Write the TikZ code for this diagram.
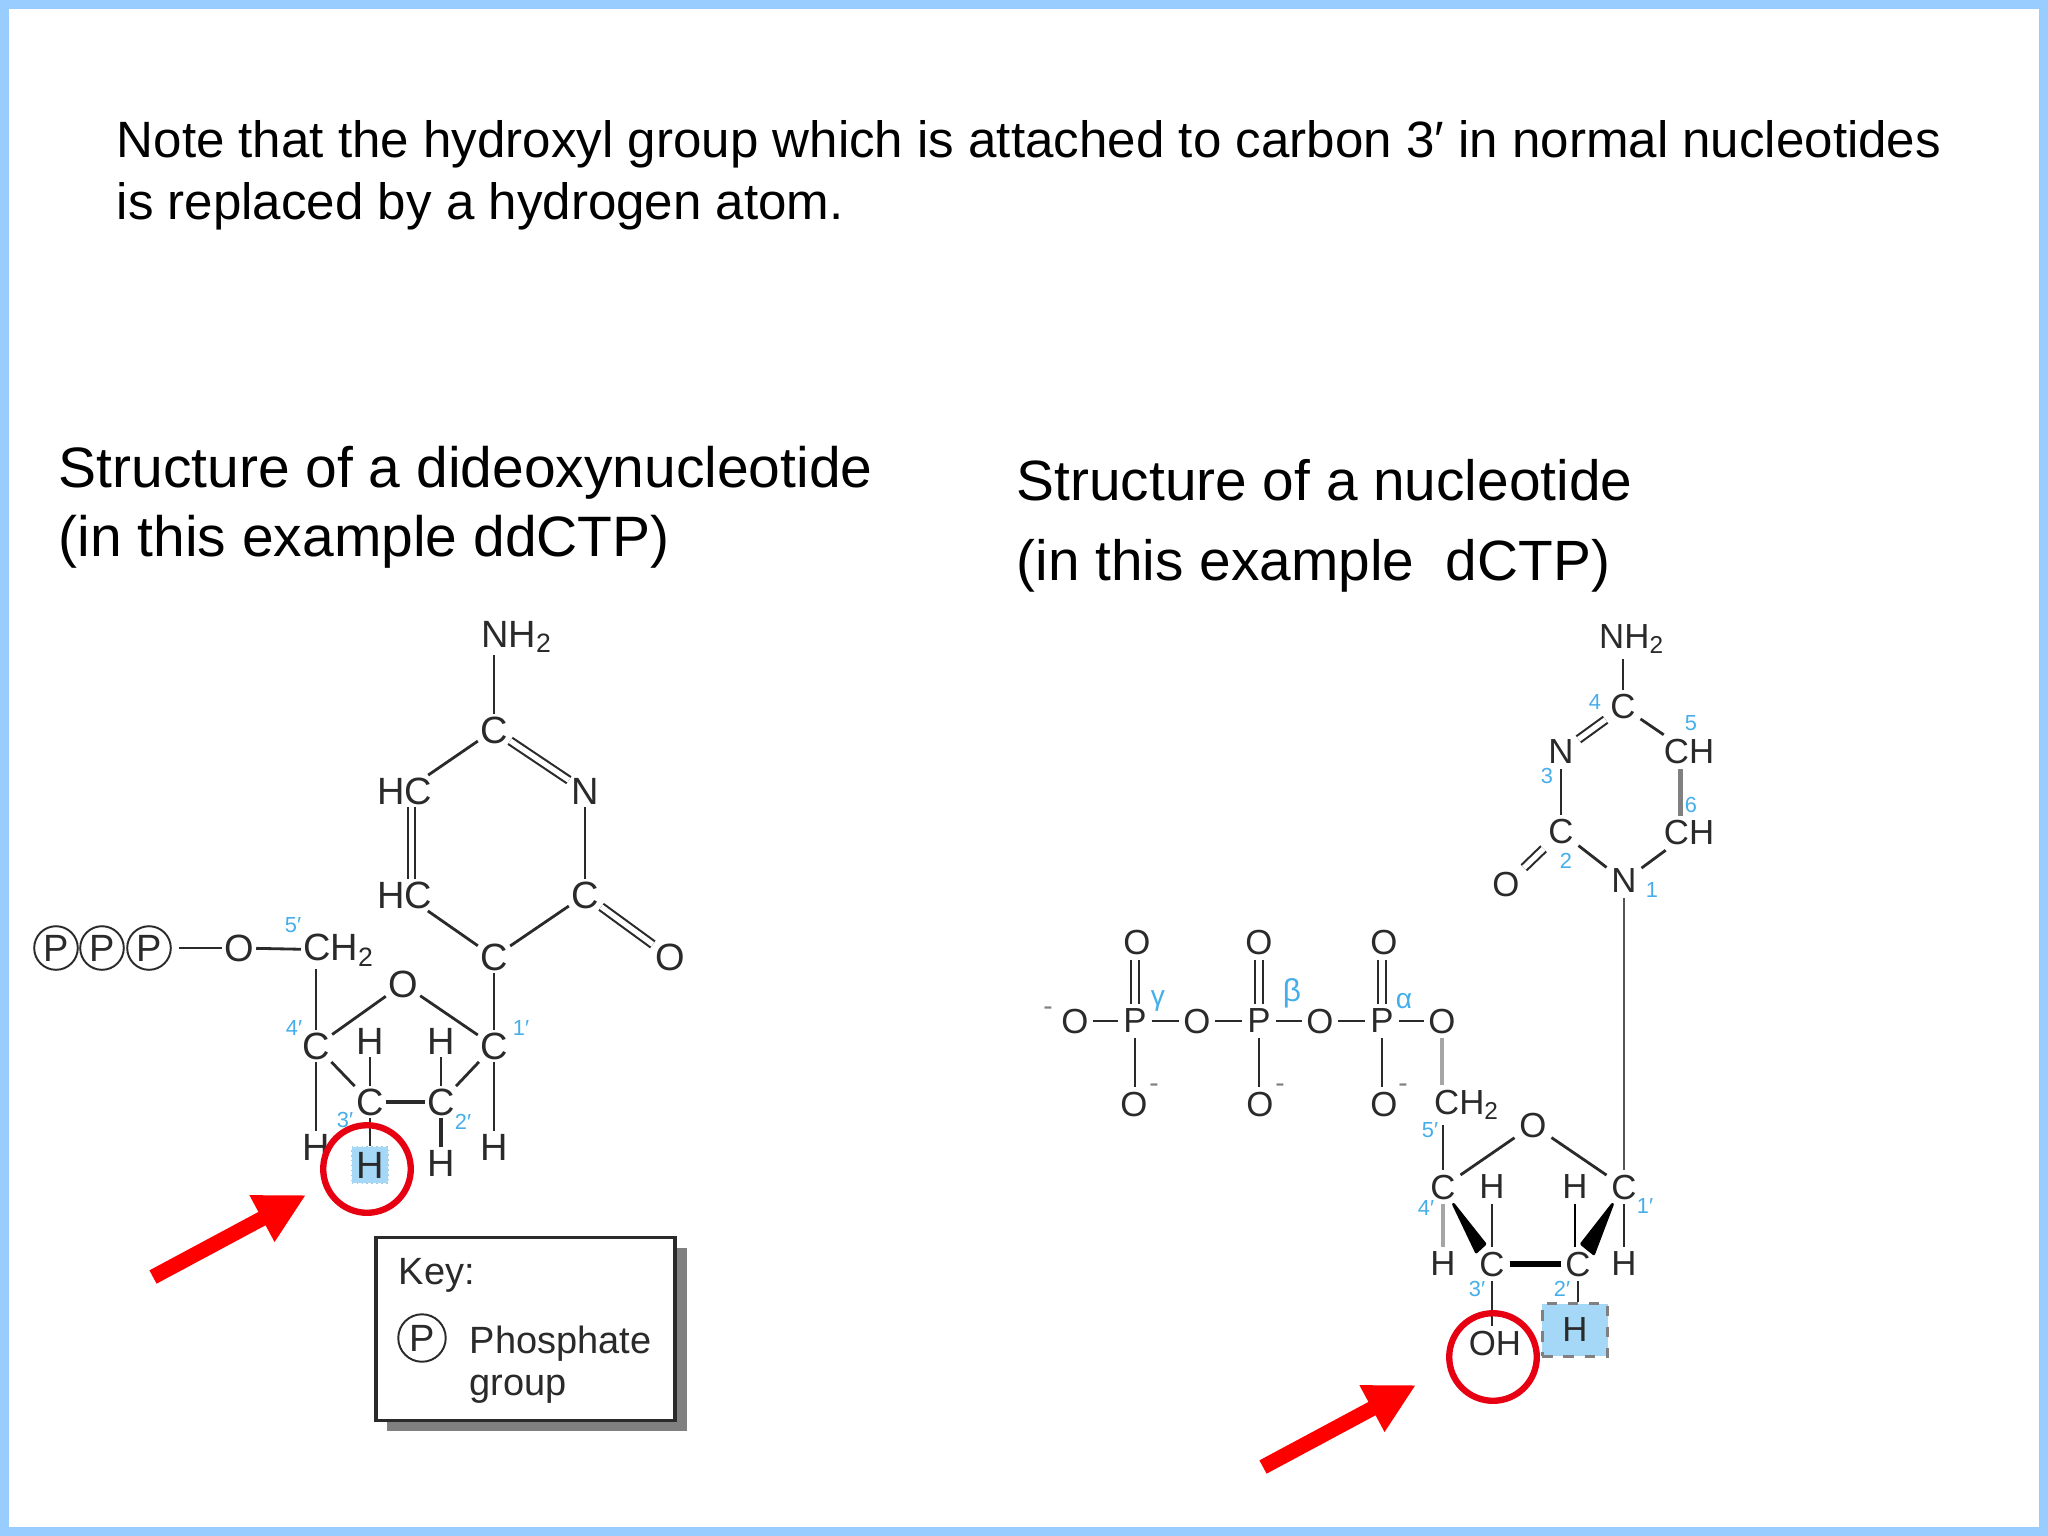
\documentclass[tikz,border=0pt]{standalone}
\usepackage{fontspec}
\setmainfont{Liberation Sans}
\usetikzlibrary{arrows.meta, positioning}
\definecolor{pageblue}{HTML}{99CCFF}
\definecolor{numblue}{HTML}{45AEEA}
\definecolor{boxblue}{HTML}{A5D8F7}
\definecolor{inkgray}{HTML}{2A2A2A}
\definecolor{markred}{HTML}{E60012}
\begin{document}
\begin{tikzpicture}[x=0.01cm, y=-0.01cm,
    atom/.style={inner sep=0.5pt, text=inkgray, font=\fontsize{10.8}{12}\selectfont},
    ratom/.style={inner sep=1.2pt, text=inkgray, font=\fontsize{9.9}{11}\selectfont},
    num/.style={inner sep=0pt, text=numblue, font=\fontsize{6.2}{7}\selectfont},
    charge/.style={inner sep=0pt, text=gray, font=\fontsize{8}{8}\selectfont},
    pcirc/.style={atom, circle, draw=inkgray, line width=0.55pt, minimum size=12.4pt, inner sep=0pt},
    bond/.style={draw=inkgray, line width=0.8pt},
    dbl/.style={bond, double=white, double distance=1.5pt, line width=0.6pt},
    wedge/.style={fill=black, draw=black, line width=0.8pt, line join=round},
    ringmark/.style={circle, draw=markred, line width=1.8pt, minimum size=24.9pt, inner sep=0pt},
    bigarrow/.style={draw=red, line width=4.3pt, -{Triangle[length=14.2pt, width=14pt]}},
    title/.style={inner sep=0pt, anchor=base west, align=left}]

    \useasboundingbox (0,0) rectangle (2048,1536);
    \draw[pageblue, line width=2.6pt] (4.5,4.5) rectangle (2043.5,1531.5);

    \node[title, font=\fontsize{14.53}{17.4}\selectfont] (note) at (116,219) {Note that the hydroxyl group which is attached to carbon 3′ in normal nucleotides\\is replaced by a hydrogen atom.};
    \node[title, font=\fontsize{16.2}{19.6}\selectfont] (ddtitle) at (58,556) {Structure of a dideoxynucleotide\\(in this example ddCTP)};
    \node[title, font=\fontsize{16.15}{22.7}\selectfont] (dtitle) at (1016,580) {Structure of a nucleotide\\(in this example\ \ dCTP)};

    \node[atom] (lnh) at (517,637) {NH\textsubscript{2}};
    \node[atom] (lct) at (494,730) {C};
    \node[atom] (lhc1) at (405,791) {HC};
    \node[atom] (lnr) at (585,791) {N};
    \node[atom] (lhc2) at (405,895) {HC};
    \node[atom] (lcr) at (585,895) {C};
    \node[atom] (lor) at (670,957) {O};
    \node[atom] (lcb) at (494,957) {C};
    \node[pcirc] (lp1) at (56,948) {P};
    \node[pcirc] (lp2) at (102,948) {P};
    \node[pcirc] (lp3) at (149,948) {P};
    \node[atom] (lo5) at (239,948) {O};
    \node[atom] (lch) at (339,950) {CH\textsubscript{2}};
    \node[atom] (lor1) at (403,984) {O};
    \node[atom] (lc4) at (316,1046) {C};
    \node[atom] (lc1) at (494,1046) {C};
    \node[atom] (lh3t) at (370,1041) {H};
    \node[atom] (lh2t) at (441,1041) {H};
    \node[atom] (lc3) at (370,1102) {C};
    \node[atom] (lc2) at (441,1102) {C};
    \node[atom] (lh4) at (316,1147) {H};
    \node[atom, fill=boxblue, inner sep=0pt, minimum size=10.4pt, draw=boxblue!85!gray, densely dotted] (lh3b) at (370,1165) {H};
    \node[atom] (lh2b) at (441,1163) {H};
    \node[atom] (lh1) at (494,1147) {H};

    \node[num] (ln5) at (293,925) {5′};
    \node[num] (ln4) at (294,1028) {4′};
    \node[num] (ln1) at (521,1028) {1′};
    \node[num] (ln3) at (345,1120) {3′};
    \node[num] (ln2) at (463,1122) {2′};

    \draw[bond] (lct.north) -- (lct |- lnh.south);
    \draw[dbl] (lct) -- (lnr);
    \draw[bond] (lct) -- (lhc1);
    \draw[dbl] ([xshift=1.8pt]lhc1.south) -- ([xshift=1.8pt]lhc2.north);
    \draw[bond] (lnr) -- (lcr);
    \draw[dbl] (lcr) -- (lor);
    \draw[bond] (lhc2) -- (lcb);
    \draw[bond] (lcr) -- (lcb);
    \draw[bond] (lcb) -- (lc1);
    \draw[bond, shorten <=2pt] (lp3) -- (lo5);
    \draw[bond] (lo5) -- (lch);
    \draw[bond] (lc4.north) -- (lc4 |- lch.south);
    \draw[bond] (lc4) -- (lor1);
    \draw[bond] (lor1) -- (lc1);
    \draw[bond] (lc4) -- (lc3);
    \draw[bond] (lc1) -- (lc2);
    \draw[bond, line width=1pt] (lc3) -- (lc2);
    \draw[bond] (lc3) -- (lh3t);
    \draw[bond] (lc2) -- (lh2t);
    \draw[bond] (lc4) -- (lh4);
    \draw[bond] (lc3) -- (lh3b);
    \draw[bond, line width=1pt] (lc2) -- (lh2b);
    \draw[bond] (lc1) -- (lh1);

    \node[ringmark] (lmark) at (367,1169) {};
    \coordinate (ltail) at (153,1277);
    \coordinate (ltip) at (306,1195);
    \draw[bigarrow] (ltail) -- (ltip);

    \fill[gray] (387,1248) rectangle (687,1431);
    \node[draw=inkgray, fill=white, line width=0.9pt, minimum width=85pt, minimum height=52.2pt, inner sep=0pt] (keybox) at (525.5,1329) {};
    \node[atom, anchor=west, inner sep=0pt] (keytext) at (398,1275) {Key:};
    \node[pcirc, minimum size=13.5pt] (keyp) at (422,1338) {P};
    \node[atom, anchor=north west, align=left, inner sep=0pt, font=\fontsize{10.8}{12}\selectfont] (keylabel) at (469,1325) {Phosphate\\group};

    \node[ratom] (rnh) at (1632,639) {NH\textsubscript{2}};
    \node[ratom] (rc4) at (1623,707) {C};
    \node[ratom] (rch5) at (1689,752) {CH};
    \node[ratom] (rn3) at (1561,752) {N};
    \node[ratom] (rc2) at (1561,832) {C};
    \node[ratom] (rch6) at (1689,833) {CH};
    \node[ratom] (rn1) at (1624,881) {N};
    \node[ratom] (rob) at (1506,885) {O};
    \node[ratom] (rot1) at (1137,943) {O};
    \node[ratom] (rot2) at (1259,943) {O};
    \node[ratom] (rot3) at (1384,943) {O};
    \node[ratom] (rom) at (1075,1021) {O};
    \node[ratom] (rpg) at (1135,1021) {P};
    \node[ratom] (ro1) at (1197,1021) {O};
    \node[ratom] (rpb) at (1259,1021) {P};
    \node[ratom] (ro2) at (1320,1021) {O};
    \node[ratom] (rpa) at (1382,1021) {P};
    \node[ratom] (ro3) at (1442,1021) {O};
    \node[ratom] (rod1) at (1134,1104) {O};
    \node[ratom] (rod2) at (1260,1104) {O};
    \node[ratom] (rod3) at (1384,1104) {O};
    \node[ratom] (rch) at (1467,1105) {CH\textsubscript{2}};
    \node[ratom] (ror) at (1533,1125) {O};
    \node[ratom] (rc4p) at (1443,1187) {C};
    \node[ratom] (rh3t) at (1492,1187) {H};
    \node[ratom] (rh2t) at (1575,1187) {H};
    \node[ratom] (rc1p) at (1624,1187) {C};
    \node[ratom] (rh4) at (1443,1264) {H};
    \node[ratom] (rc3p) at (1492,1264) {C};
    \node[ratom] (rc2p) at (1578,1264) {C};
    \node[ratom] (rh1) at (1624,1264) {H};
    \node[ratom] (roh) at (1495,1343) {OH};
    \node[ratom, fill=boxblue, draw=gray, dashed, line width=1pt, minimum width=18.6pt, minimum height=15pt, inner sep=0pt] (rhb) at (1575,1330) {H};

    \node[num] (rn4t) at (1595,702) {4};
    \node[num] (rn5t) at (1691,723) {5};
    \node[num] (rn3t) at (1547,776) {3};
    \node[num] (rn2t) at (1566,861) {2};
    \node[num] (rn6t) at (1691,805) {6};
    \node[num] (rn1t) at (1652,890) {1};
    \node[num, font=\fontsize{8}{8}\selectfont] (rgam) at (1158,1001) {γ};
    \node[num, font=\fontsize{9}{9}\selectfont] (rbet) at (1292,993) {β};
    \node[num, font=\fontsize{8}{8}\selectfont] (ralp) at (1404,1001) {α};
    \node[num] (rn5p) at (1430,1130) {5′};
    \node[num] (rn4p) at (1426,1208) {4′};
    \node[num] (rn1p) at (1645,1206) {1′};
    \node[num] (rn3p) at (1477,1289) {3′};
    \node[num] (rn2p) at (1562,1289) {2′};
    \node[charge] (rm0) at (1048,1011) {-};
    \node[charge] (rm1) at (1154,1088) {-};
    \node[charge] (rm2) at (1280,1088) {-};
    \node[charge] (rm3) at (1403,1088) {-};

    \draw[bond] (rc4.north) -- (rc4 |- rnh.south);
    \draw[dbl] (rc4) -- (rn3);
    \draw[bond] (rc4) -- (rch5);
    \draw[bond, line width=1.5pt, draw=gray] ([xshift=-2.5pt]rch5.south) -- ([xshift=-2.5pt]rch6.north);
    \draw[bond] (rn3) -- (rc2);
    \draw[bond] (rc2) -- (rn1);
    \draw[bond] (rch6) -- (rn1);
    \draw[dbl] (rc2) -- (rob);
    \draw[bond, draw=inkgray!80] (rn1) -- (rc1p);
    \draw[dbl] (rpg.north) -- (rpg |- rot1.south);
    \draw[dbl] (rpb.north) -- (rpb |- rot2.south);
    \draw[dbl] (rpa.north) -- (rpa |- rot3.south);
    \draw[bond] (rom) -- (rpg);
    \draw[bond] (rpg) -- (ro1);
    \draw[bond] (ro1) -- (rpb);
    \draw[bond] (rpb) -- (ro2);
    \draw[bond] (ro2) -- (rpa);
    \draw[bond] (rpa) -- (ro3);
    \draw[bond] (rpg.south) -- (rpg |- rod1.north);
    \draw[bond] (rpb.south) -- (rpb |- rod2.north);
    \draw[bond] (rpa.south) -- (rpa |- rod3.north);
    \draw[bond, line width=1.2pt, draw=gray!70] (ro3.south) -- (ro3 |- rch.north);
    \draw[bond] (rc4p.north) -- (rc4p |- rch.south);
    \draw[bond] (rc4p) -- (ror);
    \draw[bond] (ror) -- (rc1p);
    \draw[wedge] ([xshift=-2pt]rc4p.south east) -- ([xshift=0.5pt, yshift=-1.5pt]rc3p.north west) -- ([xshift=-2pt, yshift=0.8pt]rc3p.north) -- cycle;
    \draw[wedge] ([xshift=1.7pt]rc1p.south west) -- ([xshift=1pt, yshift=0.8pt]rc2p.north) -- ([xshift=-0.5pt, yshift=-2pt]rc2p.north east) -- cycle;
    \draw[bond, line width=1.7pt, draw=black] (rc3p) -- (rc2p);
    \draw[bond] (rc3p) -- (rh3t);
    \draw[bond, draw=black] (rh2t.south) -- (rh2t |- rc2p.north);
    \draw[bond, line width=1.2pt, draw=gray!70] (rc4p) -- (rh4);
    \draw[bond] (rc1p) -- (rh1);
    \draw[bond] (rc3p.south) -- (rc3p |- roh.north);
    \draw[bond] (rhb.north -| rc2p) -- (rc2p.south);

    \node[ringmark] (rmark) at (1493,1357) {};
    \coordinate (rtail) at (1263,1467);
    \coordinate (rtip) at (1416,1385);
    \draw[bigarrow] (rtail) -- (rtip);
\end{tikzpicture}
\end{document}
